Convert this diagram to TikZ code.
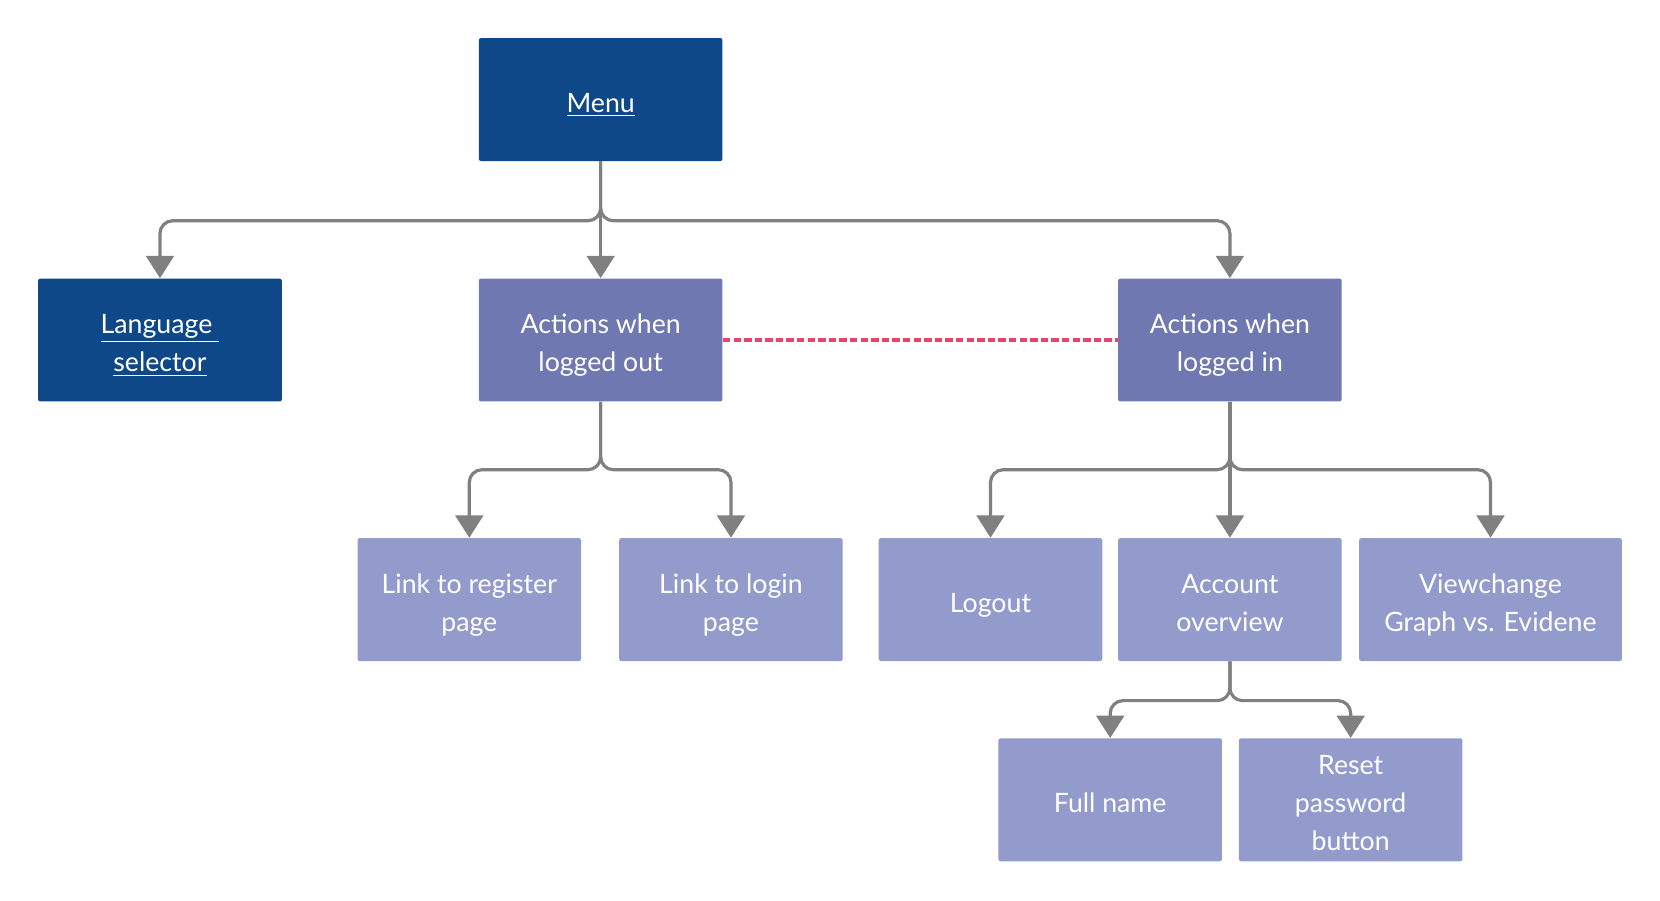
\documentclass[tikz,border=0pt]{standalone}
\usepackage{fontspec}
\setmainfont{Lato}
\usetikzlibrary{arrows.meta}
\definecolor{menublue}{HTML}{0F4889}
\definecolor{midpurple}{HTML}{6F78B0}
\definecolor{lavender}{HTML}{939BCD}
\definecolor{linkgray}{HTML}{808080}
\definecolor{dashred}{HTML}{E8436A}
\newcommand{\tstrut}{\rule{0pt}{16pt}}

\begin{document}
\begin{tikzpicture}[x=0.5pt,y=-0.5pt,>={Triangle[width=13pt,length=10.5pt]},
                    font=\fontsize{12.6}{18}\selectfont]
  \tikzstyle{box}=[rectangle,text=white,align=center,inner sep=0pt,
                   minimum width=105.5pt,minimum height=58pt,rounded corners=1pt,
                   execute at end node={\rule[-4pt]{0pt}{4pt}}]
  \tikzstyle{mainbox}=[box,fill=menublue,minimum width=115pt]
  \tikzstyle{groupbox}=[box,fill=midpurple]
  \tikzstyle{leafbox}=[box,fill=lavender]
  \tikzstyle{branch}=[->,draw=linkgray,line width=1.5pt,rounded corners=6pt]

  \useasboundingbox (0,0) rectangle (1567,850);

  \node[mainbox]  (menu)   at (567,94)   {\tstrut\underline{Menu}};
  \node[mainbox]  (lang)   at (151,321)  {\tstrut\underline{Language\ }\\\underline{selector}};
  \node[groupbox,minimum width=115pt] (out) at (567,321) {\tstrut Actions when\\logged out};
  \node[groupbox] (in)     at (1161,321) {\tstrut Actions when\\logged in};

  \node[leafbox]  (reg)    at (443,566)  {\tstrut Link to register\\page};
  \node[leafbox]  (login)  at (690,566)  {\tstrut Link to login\\page};
  \node[leafbox]  (logout) at (935,566)  {\tstrut Logout};
  \node[leafbox]  (acc)    at (1161,566) {\tstrut Account\\overview};
  \node[leafbox,minimum width=124pt] (view) at (1407,566) {\tstrut Viewchange\\Graph vs. Evidene};

  \node[leafbox]  (name)   at (1048,755) {\tstrut Full name};
  \node[leafbox]  (reset)  at (1275,755) {\tstrut Reset\\password\\button};

  % menu
  \draw[branch] (menu.south) -- ++(0,56) -| (lang.north);
  \draw[branch] (menu.south) -- (out.north);
  \draw[branch] (menu.south) -- ++(0,56) -| (in.north);
  \draw[dashred,line width=1.5pt,dash pattern=on 3.5pt off 1.5pt] (out.east) -- (in.west);

  % logged out
  \draw[branch] (out.south) -- ++(0,64) -| (reg.north);
  \draw[branch] (out.south) -- ++(0,64) -| (login.north);

  % logged in
  \draw[branch] (in.south) -- ++(0,64) -| (logout.north);
  \draw[branch] (in.south) -- (acc.north);
  \draw[branch] (in.south) -- ++(0,64) -| (view.north);

  % account
  \draw[branch] (acc.south) -- ++(0,37) -| (name.north);
  \draw[branch] (acc.south) -- ++(0,37) -| (reset.north);
\end{tikzpicture}
\end{document}
